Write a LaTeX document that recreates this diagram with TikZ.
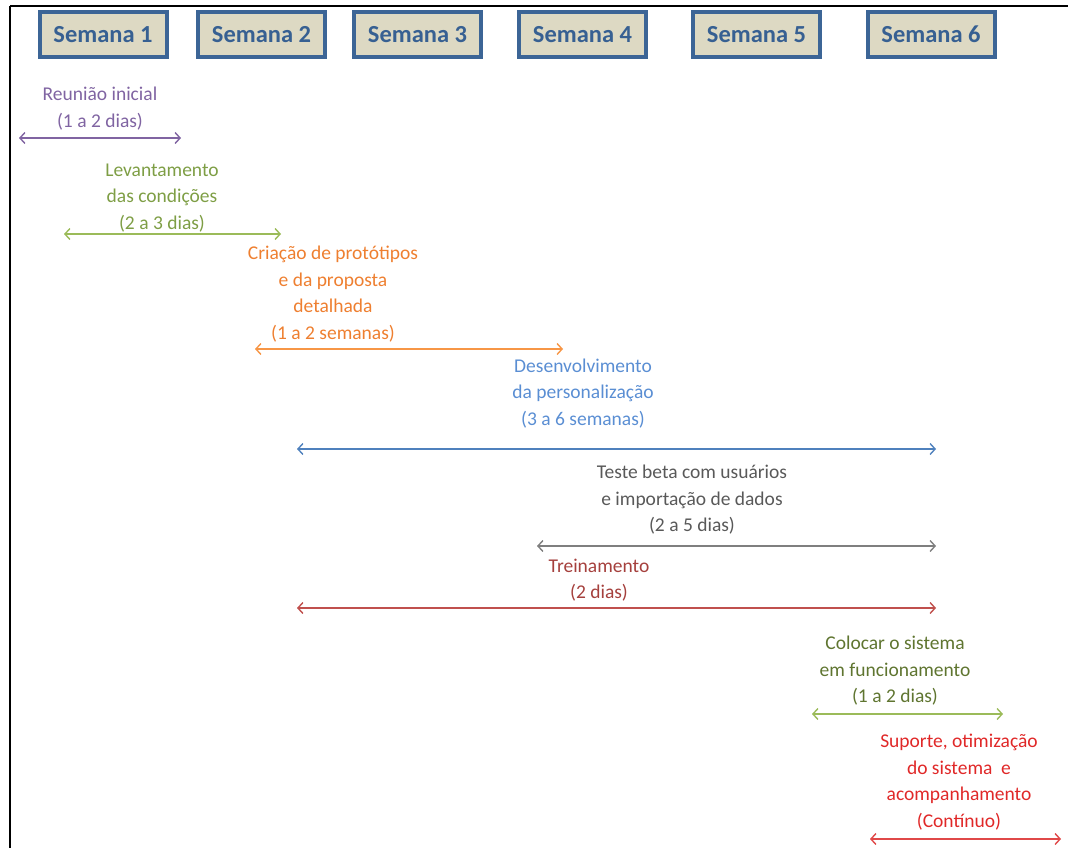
\documentclass[tikz,border=0pt]{standalone}
\usepackage{fontspec}
\setmainfont{Carlito}
\usetikzlibrary{arrows.meta}

\definecolor{hdrfill}{HTML}{DDD9C3}
\definecolor{hdrline}{HTML}{3C6596}
\definecolor{hdrtext}{HTML}{376092}
\definecolor{cpurple}{HTML}{8064A2}
\definecolor{cgreen}{HTML}{9BBB59}
\definecolor{cgreentxt}{HTML}{7E9E45}
\definecolor{corange}{HTML}{F79646}
\definecolor{corangetxt}{HTML}{EE7F30}
\definecolor{cblue}{HTML}{4F81BD}
\definecolor{cbluetxt}{HTML}{5A8ED3}
\definecolor{cgray}{HTML}{7F7F7F}
\definecolor{cgraytxt}{HTML}{595959}
\definecolor{cdred}{HTML}{C0504D}
\definecolor{cdredtxt}{HTML}{A5403D}
\definecolor{colive}{HTML}{5F7530}
\definecolor{cred}{HTML}{E04848}
\definecolor{credtxt}{HTML}{E02828}

\tikzset{
  week/.style={draw=hdrline, line width=4pt, fill=hdrfill, text=hdrtext,
    minimum width=127pt, minimum height=45pt, inner sep=0pt,
    font=\fontsize{24.5}{28}\selectfont\bfseries},
  task/.style={align=center, inner sep=0pt,
    font=\fontsize{19.5}{26.5}\selectfont},
  span/.style={line width=1.4pt,
    {Straight Barb[length=5pt,width=11pt]}-{Straight Barb[length=5pt,width=11pt]}}
}

\begin{document}
\begin{tikzpicture}[x=1pt,y=-1pt]
\useasboundingbox (0,0) rectangle (1068,848);

% frame
\draw[line width=2.8pt] (10,6) -- (1068,6);
\draw[line width=2.8pt] (10,6) -- (10,848);

% week headers
\node[week] (w1) at (103,34.5) {Semana 1};
\node[week] (w2) at (261.5,34.5) {Semana 2};
\node[week] (w3) at (417.5,34.5) {Semana 3};
\node[week] (w4) at (582.5,34.5) {Semana 4};
\node[week] (w5) at (756.5,34.5) {Semana 5};
\node[week] (w6) at (931,34.5) {Semana 6};

% task labels
\node[task, text=cpurple] (t1) at (100,108.5) {Reunião inicial\\(1 a 2 dias)};
\node[task, text=cgreentxt] (t2) at (162,198) {Levantamento\\das condições\\(2 a 3 dias)};
\node[task, text=corangetxt] (t3) at (333,294) {Criação de protótipos\\e da proposta\\detalhada\\(1 a 2 semanas)};
\node[task, text=cbluetxt] (t4) at (583,393.5) {Desenvolvimento\\da personalização\\(3 a 6 semanas)};
\node[task, text=cgraytxt] (t5) at (692,500) {Teste beta com usuários\\e importação de dados\\(2 a 5 dias)};
\node[task, text=cdredtxt] (t6) at (599,580) {Treinamento\\(2 dias)};
\node[task, text=colive] (t7) at (895,671) {Colocar o sistema\\em funcionamento\\(1 a 2 dias)};
\node[task, text=credtxt] (t8) at (959,782) {Suporte, otimização\\do sistema~~e\\acompanhamento\\(Contínuo)};

% span end points
\coordinate (a1) at (19,138);   \coordinate (b1) at (181,138);
\coordinate (a2) at (64,234);   \coordinate (b2) at (281,234);
\coordinate (a3) at (255,349);  \coordinate (b3) at (563,349);
\coordinate (a4) at (297,449);  \coordinate (b4) at (936,449);
\coordinate (a5) at (537,546);  \coordinate (b5) at (936,546);
\coordinate (a6) at (297,608);  \coordinate (b6) at (936,608);
\coordinate (a7) at (812,714);  \coordinate (b7) at (1003,714);
\coordinate (a8) at (870,839);  \coordinate (b8) at (1061,839);

% duration spans
\draw[span, cpurple] (a1) -- (b1);
\draw[span, cgreen] (a2) -- (b2);
\draw[span, corange] (a3) -- (b3);
\draw[span, cblue] (a4) -- (b4);
\draw[span, cgray] (a5) -- (b5);
\draw[span, cdred] (a6) -- (b6);
\draw[span, cgreen] (a7) -- (b7);
\draw[span, cred] (a8) -- (b8);
\end{tikzpicture}
\end{document}
